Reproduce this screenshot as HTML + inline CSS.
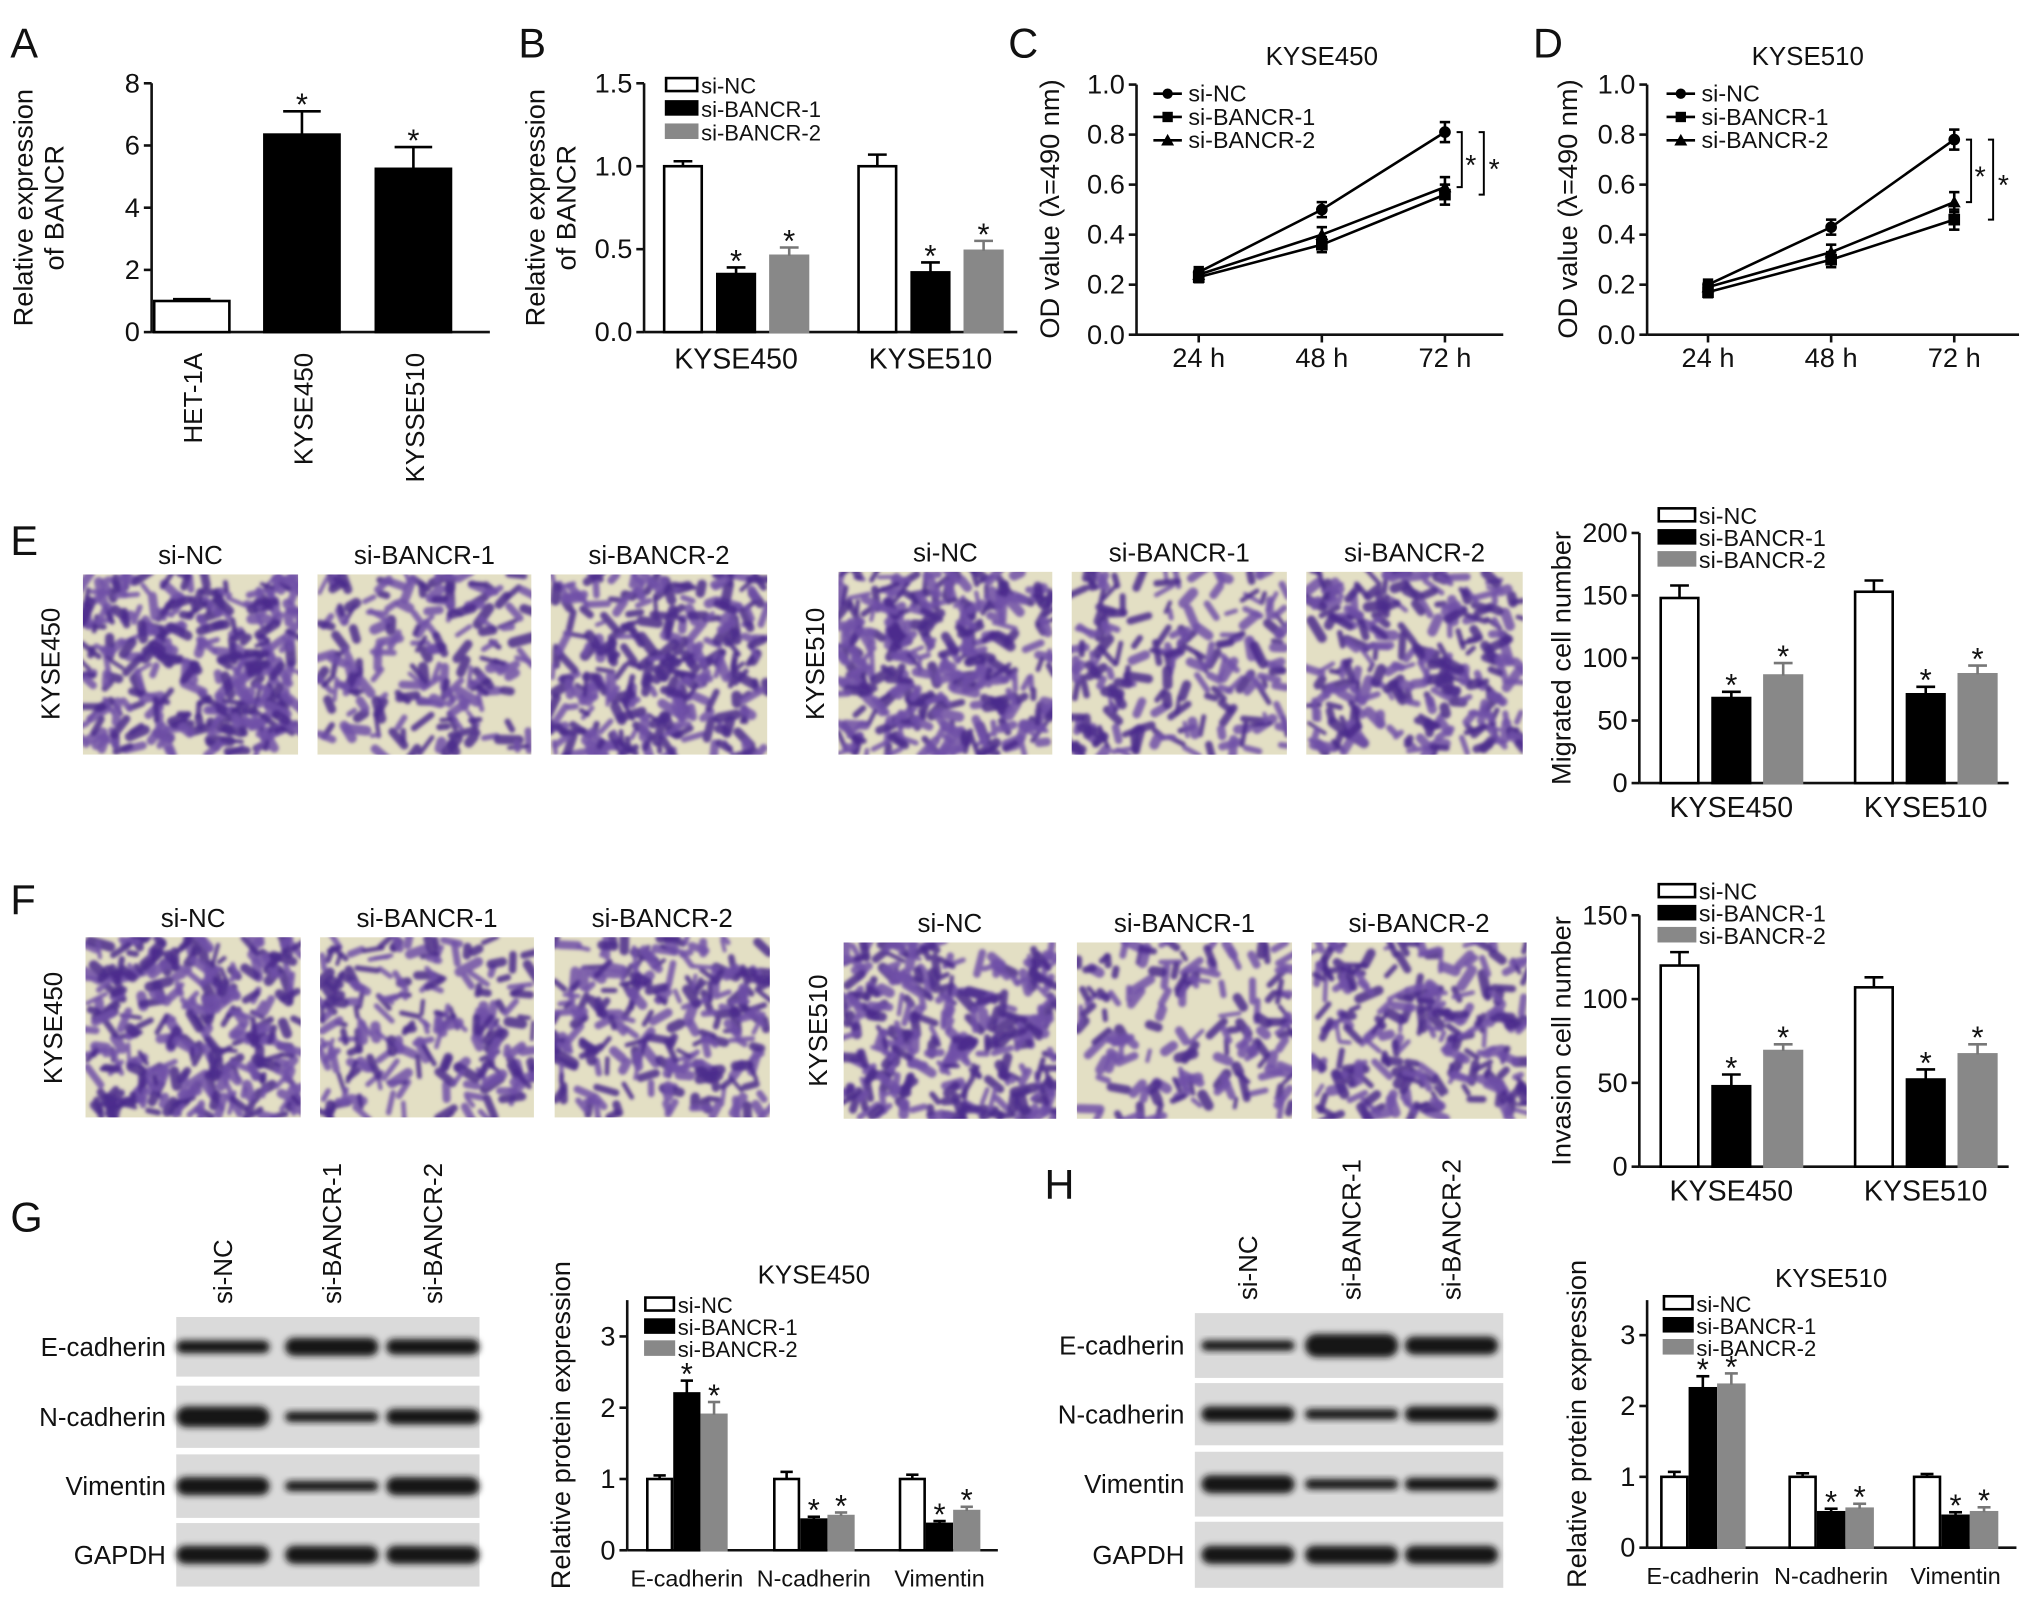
<!DOCTYPE html>
<html><head><meta charset="utf-8">
<style>
html,body{margin:0;padding:0;background:#fff;}
svg{display:block;font-family:"Liberation Sans",sans-serif;}
</style></head>
<body>
<svg id="fig" width="2032" height="1618" viewBox="0 0 1568 1248" xmlns="http://www.w3.org/2000/svg">
<defs>
<filter id="blur1" x="-20%" y="-50%" width="140%" height="200%"><feGaussianBlur stdDeviation="2.5"/></filter>
<filter id="blur2"><feGaussianBlur stdDeviation="1.2"/></filter>
</defs>
<rect width="1568" height="1248" fill="#fff"/>
</svg>
<script>
// ===== DATA =====
const aCats = ["HET-1A","KYSE450","KYSSE510"];
const aVals = [1.0, 6.35, 5.25];
const aErrs = [0.06, 0.75, 0.7];
const aStars = [false, true, true];

const series = ["si-NC","si-BANCR-1","si-BANCR-2"];
const cellCats = ["KYSE450","KYSE510"];
const bVals = [[1.0,0.35,0.46],[1.0,0.36,0.49]];
const bErrs = [[0.03,0.04,0.05],[0.07,0.06,0.06]];

const timeCats = ["24 h","48 h","72 h"];
const cNC = [0.25,0.50,0.81], cB1 = [0.23,0.36,0.56], cB2 = [0.24,0.40,0.59];
const cErr = [0.02,0.03,0.04];
const dNC = [0.20,0.43,0.78], dB1 = [0.17,0.30,0.46], dB2 = [0.19,0.33,0.53];
const dErr = [0.02,0.03,0.04];

const eVals = [[148,68,86],[153,71,87]];
const eErrs = [[10,5,10],[9,6,7]];
const fVals = [[120,48,69],[107,52,67]];
const fErrs = [[8,7,4],[6,6,6]];

const protCats = ["E-cadherin","N-cadherin","Vimentin"];
const gVals = [[1.0,2.2,1.9],[1.0,0.43,0.48],[1.0,0.37,0.55]];
const gErrs = [[0.05,0.18,0.18],[0.1,0.04,0.05],[0.06,0.04,0.06]];
const hVals = [[1.0,2.25,2.3],[1.0,0.5,0.55],[1.0,0.45,0.5]];
const hErrs = [[0.07,0.17,0.16],[0.05,0.05,0.07],[0.04,0.05,0.07]];

// ===== HELPERS =====
const NS="http://www.w3.org/2000/svg";
const svg=document.getElementById('fig');
function el(tag,attrs,parent){const e=document.createElementNS(NS,tag);for(const k in attrs)e.setAttribute(k,attrs[k]);(parent||svg).appendChild(e);return e;}
function txt(s,x,y,size,anchor,parent,rot){const t=el('text',{x:x,y:y,'font-size':size,'text-anchor':anchor||'start',fill:'#111'},parent);if(rot)t.setAttribute('transform','rotate('+rot+' '+x+' '+y+')');t.textContent=s;return t;}
const fills=['#fff','#000','#888'];

function yAxis(g,x,y0,y1,vmin,vmax,ticks,fmt,top,fs){
  const sc=v=>y0-(v-vmin)/(vmax-vmin)*(y0-y1);
  const ax=el('line',{x1:x,y1:y0,x2:x,y2:top!==undefined?top:y1,stroke:'#111','stroke-width':2},g);
  
  
  ticks.forEach(v=>{el('line',{x1:x-6,y1:sc(v),x2:x,y2:sc(v),stroke:'#111','stroke-width':2},g);
    const t=txt(fmt(v),x-9,sc(v)+7,fs||21,'end',g);
    
    });
  return sc;
}
function bar(g,cx,w,yv,y0,fill,err,errTop,star,name){
  const r=el('rect',{x:cx-w/2,y:yv,width:w,height:y0-yv,fill:fill,stroke:fill==='#888'?'#888':'#000','stroke-width':2},g);
  
  
  el('line',{x1:cx,y1:yv,x2:cx,y2:errTop,stroke:fill==='#888'?'#777':'#000','stroke-width':2},g);
  el('line',{x1:cx-w/4,y1:errTop,x2:cx+w/4,y2:errTop,stroke:fill==='#888'?'#777':'#000','stroke-width':2},g);
  if(star){const s=txt('*',cx,errTop+3,24,'middle',g);}
}
function legend(g,x,y,gap,fs,bw){
  series.forEach((s,i)=>{
    const r=el('rect',{x:x,y:y+i*gap-6,width:bw||28,height:10,fill:fills[i],stroke:fills[i]==='#888'?'#888':'#000','stroke-width':2},g);
    
    
    const t=txt(s,x+(bw||28)+3,y+i*gap+6,fs||18,'start',g);
    
    
  });
}
function groupedChart(name,cfg,vals,errs,cats){
  const g=el('g',{},svg);
  
  
  const sc=yAxis(g,cfg.ax,cfg.y0,cfg.y1,0,cfg.vmax,cfg.ticks,cfg.fmt,cfg.top,cfg.fs);
  el('line',{x1:cfg.ax,y1:cfg.y0,x2:cfg.xend,y2:cfg.y0,stroke:'#111','stroke-width':2},g);
  cats.forEach((c,ci)=>{
    const gc=cfg.centers[ci];
    series.forEach((s,si)=>{
      const cx=gc+(si-1)*cfg.step;
      bar(g,cx,cfg.bw,sc(vals[ci][si]),cfg.y0,fills[si],0,sc(vals[ci][si]+errs[ci][si]),si>0,'bar-'+c+'-'+s);
    });
    const t=txt(c,gc,cfg.y0+cfg.xlab,cfg.xfs||22,'middle',g);
    
    
  });
  if(cfg.ylabel){const yl=txt(cfg.ylabel,cfg.ylx,(cfg.y0+cfg.top)/2,cfg.yfs||21,'middle',g,-90);
  
  }
  if(cfg.title){const t=txt(cfg.title,cfg.titleX,cfg.titleY,20,'middle',g);}
  legend(g,cfg.lx,cfg.ly,cfg.lgap,cfg.lfs,cfg.lbw);
  return g;
}
function panelLetter(s,x,y){const t=txt(s,x,y,32,'start');}

// ===== PANEL A =====
(function(){
  const g=el('g',{},svg);
  
  
  const sc=yAxis(g,117,256,64,0,8,[0,2,4,6,8],v=>String(v));
  el('line',{x1:117,y1:256,x2:378,y2:256,stroke:'#111','stroke-width':2},g);
  const centers=[148,233,319];
  aCats.forEach((c,i)=>{
    bar(g,centers[i],58,sc(aVals[i]),256,i===0?'#fff':'#000',0,sc(aVals[i]+aErrs[i]),aStars[i],'bar-'+c);
    const t=txt(c,centers[i]+8,272,20,'end',g,-90);
    
    
  });
  const l1=txt('Relative expression',25,160,21,'middle',g,-90);
  
  
  const l2=txt('of BANCR',49,160,21,'middle',g,-90);
  
  
})();
panelLetter('A',8,44);

// ===== PANEL B =====
(function(){
  const g=groupedChart('panel-b-chart',{ax:497,y0:256,y1:64,top:64,vmax:1.5,ticks:[0,0.5,1,1.5],fmt:v=>v.toFixed(1),xend:785,centers:[568,718],step:41,bw:29,xlab:28,ylabel:'',ylx:0,lx:514,ly:66,lgap:18,lfs:17,lbw:24},bVals,bErrs,cellCats);
  const l1=txt('Relative expression',420,160,21,'middle',g,-90);
  
  
  const l2=txt('of BANCR',444,160,21,'middle',g,-90);
  
  
})();
panelLetter('B',400,44);

// ===== PANELS C & D (lines) =====
function lineChart(name,ax,xend,xs,title,titleX,nc,b1,b2,err,lx,ylx){
  const g=el('g',{},svg);
  
  
  const sc=yAxis(g,ax,258,65,0,1,[0,0.2,0.4,0.6,0.8,1.0],v=>v.toFixed(1));
  el('line',{x1:ax,y1:258,x2:xend,y2:258,stroke:'#111','stroke-width':2},g);
  timeCats.forEach((c,i)=>{el('line',{x1:xs[i],y1:258,x2:xs[i],y2:264,stroke:'#111','stroke-width':2},g);
    const t=txt(c,xs[i],283,21,'middle',g);});
  const sets=[[nc,'circle','si-NC'],[b1,'square','si-BANCR-1'],[b2,'triangle','si-BANCR-2']];
  sets.forEach(([vals,mk,nm],si)=>{
    const pts=vals.map((v,i)=>xs[i]+','+sc(v)).join(' ');
    const pl=el('polyline',{points:pts,fill:'none',stroke:'#000','stroke-width':2},g);
    
    
    vals.forEach((v,i)=>{
      const x=xs[i],y=sc(v);
      el('line',{x1:x,y1:sc(v-err[i]),x2:x,y2:sc(v+err[i]),stroke:'#000','stroke-width':2},g);
      el('line',{x1:x-4,y1:sc(v+err[i]),x2:x+4,y2:sc(v+err[i]),stroke:'#000','stroke-width':2},g);
      el('line',{x1:x-4,y1:sc(v-err[i]),x2:x+4,y2:sc(v-err[i]),stroke:'#000','stroke-width':2},g);
      let m;
      if(mk==='circle')m=el('circle',{cx:x,cy:y,r:4.5,fill:'#000'},g);
      else if(mk==='square')m=el('rect',{x:x-4.5,y:y-4.5,width:9,height:9,fill:'#000'},g);
      else m=el('polygon',{points:(x)+','+(y-5)+' '+(x-5)+','+(y+4)+' '+(x+5)+','+(y+4),fill:'#000'},g);
      
      
    });
    const ly=72+si*18;
    el('line',{x1:lx,y1:ly,x2:lx+22,y2:ly,stroke:'#000','stroke-width':2},g);
    if(mk==='circle')el('circle',{cx:lx+11,cy:ly,r:4,fill:'#000'},g);
    else if(mk==='square')el('rect',{x:lx+7,y:ly-4,width:8,height:8,fill:'#000'},g);
    else el('polygon',{points:(lx+11)+','+(ly-5)+' '+(lx+6)+','+(ly+4)+' '+(lx+16)+','+(ly+4),fill:'#000'},g);
    const t=txt(nm,lx+27,ly+6,18,'start',g);
  });
  const yt=txt('OD value (λ=490 nm)',ylx,161,21,'middle',g,-90);
  
  
  const tt=txt(title,titleX,50,20,'middle',g);
  
  
  const x3=xs[2];
  const b1x=x3+13,b2x=x3+30;
  el('polyline',{points:(b1x-4)+','+sc(nc[2])+' '+b1x+','+sc(nc[2])+' '+b1x+','+sc(b2[2])+' '+(b1x-4)+','+sc(b2[2]),fill:'none',stroke:'#000','stroke-width':1.5},g);
  el('polyline',{points:(b2x-4)+','+sc(nc[2])+' '+b2x+','+sc(nc[2])+' '+b2x+','+sc(b1[2])+' '+(b2x-4)+','+sc(b1[2]),fill:'none',stroke:'#000','stroke-width':1.5},g);
  txt('*',b1x+7,(sc(nc[2])+sc(b2[2]))/2+12,22,'middle',g);
  txt('*',b2x+8,(sc(nc[2])+sc(b1[2]))/2+12,22,'middle',g);
}
lineChart('panel-c-chart',877,1160,[925,1020,1115],'KYSE450',1020,cNC,cB1,cB2,cErr,890,817);
lineChart('panel-d-chart',1271,1558,[1318,1413,1508],'KYSE510',1395,dNC,dB1,dB2,dErr,1286,1217);
panelLetter('C',778,44);
panelLetter('D',1183,44);

// ===== MICROGRAPHS =====
let seed=7;function rnd(){seed=(seed*16807)%2147483647;return seed/2147483647;}
function micro(x,y,w,h,dens,name){
  const g=el('g',{},svg);
  
  
  el('rect',{x:x,y:y,width:w,height:h,fill:'#e3dfc4'},g);
  const cl='mc'+name;
  const cp=el('clipPath',{id:cl},g);el('rect',{x:x,y:y,width:w,height:h},cp);
  const gg=el('g',{'clip-path':'url(#'+cl+')',filter:'url(#blur2)'},g);
  const n=Math.round(w*h*dens/100*0.95);
  for(let i=0;i<n;i++){
    const cx=x+rnd()*w,cy=y+rnd()*h,a=rnd()*Math.PI,l=5+rnd()*12;
    const dx=Math.cos(a)*l/2,dy=Math.sin(a)*l/2;
    el('line',{x1:cx-dx,y1:cy-dy,x2:cx+dx,y2:cy+dy,stroke:rnd()<0.5?'#4a2a8c':'#7050a8','stroke-width':3+rnd()*5,'stroke-linecap':'round',opacity:0.85},gg);
  }
}
const eImgs=[[64,443,166,139,1.4],[245,443,165,139,0.8],[425,443,167,139,1.2],[647,441,165,141,1.5],[827,441,166,141,0.8],[1008,441,167,141,1.1]];
const fImgs=[[66,723,166,139,1.3],[247,723,165,139,0.9],[428,723,166,139,1.0],[651,727,164,136,1.3],[831,727,166,136,0.7],[1012,727,166,136,1.0]];
const imgLabs=["si-NC","si-BANCR-1","si-BANCR-2","si-NC","si-BANCR-1","si-BANCR-2"];
eImgs.forEach((r,i)=>{micro(r[0],r[1],r[2],r[3],r[4],'migration-image-'+i);
  const t=txt(imgLabs[i],r[0]+r[2]/2,r[1]-8,20,'middle');});
fImgs.forEach((r,i)=>{micro(r[0],r[1],r[2],r[3],r[4],'invasion-image-'+i);
  const t=txt(imgLabs[i],r[0]+r[2]/2,r[1]-8,20,'middle');});
[[46,512,'KYSE450'],[636,512,'KYSE510'],[48,793,'KYSE450'],[638,795,'KYSE510']].forEach(a=>{
  const t=txt(a[2],a[0],a[1],20,'middle',svg,-90);});
panelLetter('E',8,428);
panelLetter('F',8,705);

groupedChart('panel-e-chart',{ax:1265,y0:604,y1:411,top:411,vmax:200,ticks:[0,50,100,150,200],fmt:v=>String(v),xend:1550,centers:[1336,1486],step:40,bw:29,xlab:26,ylabel:'Migrated cell number',ylx:1212,lx:1280,ly:398,lgap:17,lfs:18},eVals,eErrs,cellCats);
groupedChart('panel-f-chart',{ax:1265,y0:900,y1:706,top:706,vmax:150,ticks:[0,50,100,150],fmt:v=>String(v),xend:1550,centers:[1336,1486],step:40,bw:29,xlab:26,ylabel:'Invasion cell number',ylx:1212,lx:1280,ly:688,lgap:17,lfs:18},fVals,fErrs,cellCats);

// ===== BLOTS =====
function blot(name,x,w,rows,cols,bandW){
  const g=el('g',{},svg);
  
  
  const rowNames=["E-cadherin","N-cadherin","Vimentin","GAPDH"];
  rows.forEach((r,ri)=>{
    el('rect',{x:x,y:r[0],width:w,height:r[1]-r[0],fill:'#dadada'},g);
    cols.forEach((cx,ci)=>{
      const th=bandW[ri][ci];
      const b=el('rect',{x:cx-36,y:(r[0]+r[1])/2-th/2,width:72,height:th,rx:th/2,fill:'#151515',filter:'url(#blur1)'},g);
      
      
    });
    const t=txt(rowNames[ri],x-8,(r[0]+r[1])/2+7,20,'end',g);
    
  });
  cols.forEach((cx,ci)=>{const t=txt(imgLabs[ci],cx+7,rows[0][0]-10,20,'start',g,-90);});
}
blot('panel-g-blot',136,234,[[1016,1062],[1069,1117],[1122,1171],[1175,1224]],[172,256,334],[[10,14,12],[16,8,12],[14,8,14],[14,14,14]]);
blot('panel-h-blot',922,238,[[1013,1063],[1067,1115],[1120,1170],[1174,1225]],[963,1043,1120],[[8,18,14],[12,8,12],[14,8,10],[14,14,14]]);
panelLetter('G',8,950);
panelLetter('H',806,925);

groupedChart('panel-g-chart',{ax:484,y0:1196,y1:1031,top:1003,vmax:3,ticks:[0,1,2,3],fmt:v=>String(v),xend:770,centers:[530,628,725],step:21,bw:19,xlab:28,xfs:18,ylabel:'Relative protein expression',ylx:440,title:'KYSE450',titleX:628,titleY:990,lx:498,ly:1007,lgap:17,lfs:17,lbw:22},gVals,gErrs,protCats);
groupedChart('panel-h-chart',{ax:1271,y0:1194,y1:1030,top:1003,vmax:3,ticks:[0,1,2,3],fmt:v=>String(v),xend:1556,centers:[1314,1413,1509],step:22,bw:20,xlab:28,xfs:18,ylabel:'Relative protein expression',ylx:1224,title:'KYSE510',titleX:1413,titleY:993,lx:1284,ly:1006,lgap:17,lfs:17,lbw:22},hVals,hErrs,protCats);
</script>
</body></html>
